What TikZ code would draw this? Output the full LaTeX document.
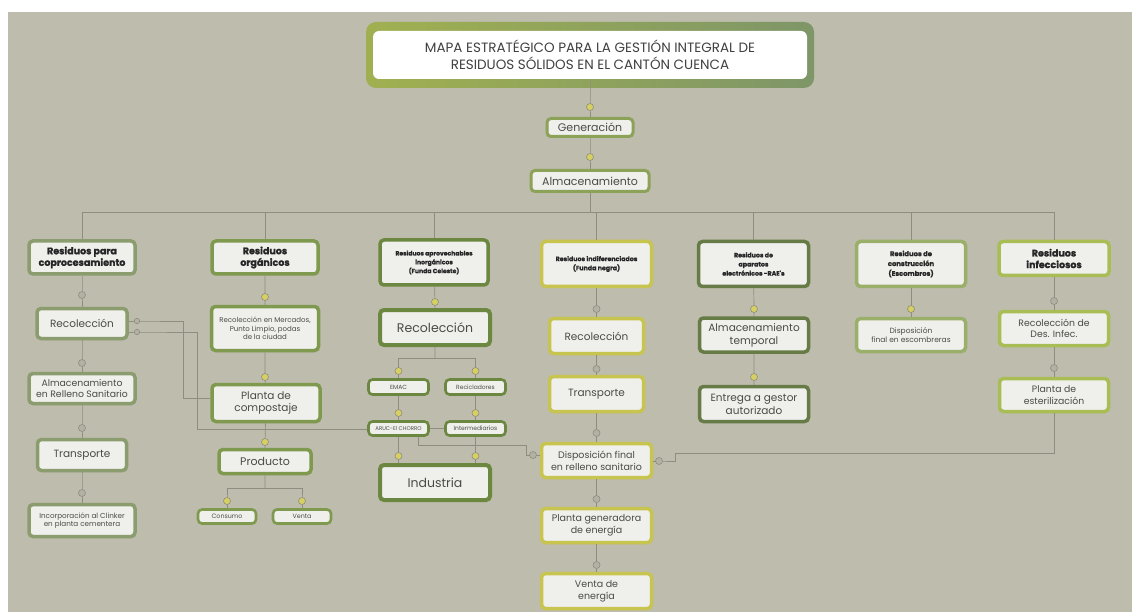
\documentclass[tikz,border=0pt]{standalone}
\usepackage{fontspec}
\setmainfont{Poppins}
\newfontfamily\negra{Poppins}[BoldFeatures={FakeBold=1.3}]
\usepackage{tikz}
\usetikzlibrary{positioning,shadows}

\definecolor{fondo}{HTML}{BEBCAC}
\definecolor{relleno}{HTML}{EFEFEC}
\definecolor{texto}{HTML}{4A4A48}
\definecolor{linea}{HTML}{8F8D80}
\definecolor{gris}{HTML}{B3B1A3}
\definecolor{amarillo}{HTML}{D6D062}
\definecolor{vtop}{HTML}{8CA258}
\definecolor{vcop}{HTML}{8B9D6E}
\definecolor{vorg}{HTML}{7F9A4E}
\definecolor{vino}{HTML}{6C8740}
\definecolor{vind}{HTML}{C8C450}
\definecolor{vrae}{HTML}{667B45}
\definecolor{vesc}{HTML}{9AB06A}
\definecolor{vinf}{HTML}{A8BE55}
\definecolor{vtitA}{HTML}{A0B050}
\definecolor{vtitB}{HTML}{7E9668}

\tikzset{
	letra/.style={font=\fontsize{#1}{1.22\dimexpr#1pt\relax}\selectfont},
	letrac/.style={font=\fontsize{#1}{1.45\dimexpr#1pt\relax}\selectfont},
	caja/.style={draw=#1, line width=3.5pt, fill=relleno, rounded corners=4pt,
		align=center, text=texto, inner sep=2pt,
		drop shadow={opacity=0.18, shadow xshift=0pt, shadow yshift=-1.5pt}},
	caja/.default=vorg,
	cat/.style={caja=#1, text=black!85, execute at begin node=\negra\bfseries},
	chica/.style={caja=#1, line width=2.6pt},
	titulo/.style={fill=white, rounded corners=6pt, minimum width=434pt,
		minimum height=48pt, align=center, text=black!75, letra=13.5},
	linea/.style={draw=linea, line width=0.7pt},
	punto/.style={circle, draw=linea, line width=0.6pt, fill=gris,
		minimum size=7pt, inner sep=0pt},
	amar/.style={fill=amarillo}
}

\begin{document}
\begin{tikzpicture}[x=1pt,y=-1pt]
		\useasboundingbox (0,0) rectangle (1132,612);
		\fill[fondo] (8,12) rectangle (1132,612);

		% titulo y tronco
		\shade[left color=vtitA, right color=vtitB, rounded corners=10pt] (366,22) rectangle (814,88);
		\node[titulo] (tit) at (590,55) {MAPA ESTRATÉGICO PARA LA GESTIÓN INTEGRAL DE\\RESIDUOS SÓLIDOS EN EL CANTÓN CUENCA};
		\node[caja=vtop, line width=3pt, minimum width=86pt, minimum height=18pt, letra=11] (gen) at (590,127.5) {Generación};
		\node[caja=vtop, line width=3pt, minimum width=118pt, minimum height=21pt, letra=11] (alm) at (590,181) {Almacenamiento};

		% categorias
		\node[cat=vcop, minimum width=106pt, minimum height=33pt, letra=9.5] (cop) at (82,257.5) {Residuos para\\coprocesamiento};
		\node[cat=vorg, minimum width=106pt, minimum height=33pt, letra=9.5] (org) at (265,257.5) {Residuos\\orgánicos};
		\node[cat=vino, minimum width=108pt, minimum height=45pt, letrac=6.1] (ino) at (434,262.5) {Residuos aprovechables\\inorgánicos\\(Funda Celeste)};
		\node[cat=vind, minimum width=110pt, minimum height=45pt, letrac=6.3] (ind) at (596.5,264) {Residuos indiferenciados\\(Funda negra)};
		\node[cat=vrae, minimum width=110pt, minimum height=45pt, letrac=6.3] (rae) at (753.5,264) {Residuos de\\aparatos\\electrónicos -RAE's};
		\node[cat=vesc, minimum width=109pt, minimum height=45pt, letrac=6.8] (esc) at (911,264) {Residuos de\\construcción\\(Escombros)};
		\node[cat=vinf, minimum width=110pt, minimum height=34pt, letra=9.5] (inf) at (1054,258.5) {Residuos\\infecciosos};

		% coprocesamiento
		\node[caja=vcop, minimum width=90pt, minimum height=30pt, letra=10.5] (cop1) at (82,323.5) {Recolección};
		\node[caja=vcop, minimum width=106pt, minimum height=30pt, letra=9.3] (cop2) at (82,388.5) {Almacenamiento\\en Relleno Sanitario};
		\node[caja=vcop, minimum width=89pt, minimum height=31pt, letra=10.5] (cop3) at (82,455) {Transporte};
		\node[caja=vcop, minimum width=106pt, minimum height=32pt, letra=7.2] (cop4) at (82,520.5) {Incorporación al Clinker\\en planta cementera};

		% organicos
		\node[caja=vorg, minimum width=107pt, minimum height=44pt, letra=7] (org1) at (265,328.5) {Recolección en Mercados,\\Punto Limpio, podas\\de la ciudad};
		\node[caja=vorg, minimum width=108pt, minimum height=37pt, letra=10.5] (org2) at (266,403) {Planta de\\compostaje};
		\node[caja=vorg, minimum width=92pt, minimum height=24pt, letra=11] (org3) at (265,461.5) {Producto};
		\node[chica=vorg, minimum width=58pt, minimum height=14pt, letra=6.3] (org4) at (227,516.5) {Consumo};
		\node[chica=vorg, minimum width=58pt, minimum height=14pt, letra=6.3] (org5) at (302,516.5) {Venta};

		% inorganicos
		\node[caja=vino, line width=4pt, minimum width=110pt, minimum height=35pt, letra=12.5] (ino1) at (435,327.5) {Recolección};
		\node[chica=vino, minimum width=60pt, minimum height=15pt, letra=6] (ino2) at (398.5,387) {EMAC};
		\node[chica=vino, minimum width=60pt, minimum height=15pt, letra=6] (ino3) at (475.5,387) {Recicladores};
		\node[chica=vino, minimum width=60pt, minimum height=14pt, letra=5.4] (ino4) at (398.5,428.5) {ARUC-El CHORRO};
		\node[chica=vino, minimum width=60pt, minimum height=14pt, letra=6] (ino5) at (475.5,428.5) {Intermediarios};
		\node[caja=vino, line width=4pt, minimum width=110pt, minimum height=35pt, letra=12.5] (ino6) at (435,482.5) {Industria};

		% indiferenciados
		\node[caja=vind, minimum width=94pt, minimum height=35pt, letra=10.5] (ind1) at (596.5,336) {Recolección};
		\node[caja=vind, minimum width=94pt, minimum height=35pt, letra=10.5] (ind2) at (596.5,394) {Transporte};
		\node[caja=vind, minimum width=110pt, minimum height=34pt, letra=9.5] (ind3) at (596.5,460.5) {Disposición final\\en relleno sanitario};
		\node[caja=vind, minimum width=110pt, minimum height=34pt, letra=9.5] (ind4) at (596.5,525.5) {Planta generadora\\de energía};
		\node[caja=vind, minimum width=110pt, minimum height=35pt, letra=9.5] (ind5) at (596.5,591) {Venta de\\energía};

		% RAE, escombros, infecciosos
		\node[caja=vrae, minimum width=109pt, minimum height=34pt, letra=10.5] (rae1) at (754,335) {Almacenamiento\\temporal};
		\node[caja=vrae, minimum width=109pt, minimum height=35pt, letra=10.5] (rae2) at (754,404) {Entrega a gestor\\autorizado};
		\node[caja=vesc, minimum width=109pt, minimum height=33pt, letra=7.5] (esc1) at (911,335) {Disposición\\final en escombreras};
		\node[caja=vinf, minimum width=109pt, minimum height=34pt, letra=9.3] (inf1) at (1054,328.5) {Recolección de\\Des. Infec.};
		\node[caja=vinf, minimum width=109pt, minimum height=33pt, letra=9.3] (inf2) at (1054,395) {Planta de\\esterilización};

		% conectores
		\draw[linea] (tit) -- (590,107) node[punto,amar] (d1) {} -- (gen) -- (590,157) node[punto,amar] (d2) {} -- (alm) -- (590,212);
		\draw[linea] (cop) -- (82,212) -- (1054,212) -- (inf);
		\foreach \n in {org,ino,ind,rae,esc}
			\draw[linea] (\n) -- (\n |- 0,212);

		\draw[linea] (cop) -- (82,295) node[punto] (e1) {} -- (cop1) -- (82,363) node[punto] (e2) {} -- (cop2)
			-- (82,428) node[punto] (e3) {} -- (cop3) -- (82,493) node[punto] (e4) {} -- (cop4);
		\draw[linea] (org) -- (265,297) node[punto,amar] (f1) {} -- (org1) -- (265,377) node[punto,amar] (f2) {} -- (org2)
			-- (265,442) node[punto,amar] (f3) {} -- (org3) -- (265,488);
		\draw[linea] (org4) -- (227,501) node[punto,amar] (f4) {} -- (227,488) -- (302,488) -- (302,501) node[punto,amar] (f5) {} -- (org5);

		\draw[linea] (ino) -- (435,302) node[punto,amar] (g1) {} -- (ino1) -- (435,358);
		\draw[linea] (ino2) -- (398.5,371) node[punto,amar] (g2) {} -- (398.5,358) -- (475.5,358) -- (475.5,371) node[punto,amar] (g3) {} -- (ino3);
		\draw[linea] (ino2) -- (398.5,413) node[punto,amar] (g4) {} -- (ino4) -- (398.5,456) node[punto,amar] (g5) {} -- (ino6.north -| 398.5,0);
		\draw[linea] (ino3) -- (475.5,413) node[punto,amar] (g6) {} -- (ino5) -- (475.5,456) node[punto,amar] (g7) {} -- (ino6.north -| 475.5,0);
		\draw[linea] (ino4) -- (ino5);

		\draw[linea] (ind) -- (596.5,309) node[punto] (h1) {} -- (ind1) -- (596.5,369) node[punto] (h2) {} -- (ind2)
			-- (596.5,433) node[punto] (h3) {} -- (ind3) -- (596.5,499) node[punto] (h4) {} -- (ind4)
			-- (596.5,565) node[punto] (h5) {} -- (ind5);

		\draw[linea] (rae) -- (754,309) node[punto,amar] (k1) {} -- (rae1) -- (754,377) node[punto,amar] (k2) {} -- (rae2);
		\draw[linea] (esc) -- (911,309) node[punto,amar] (m1) {} -- (esc1);
		\draw[linea] (inf) -- (1054,301) node[punto] (n1) {} -- (inf1) -- (1054,368) node[punto] (n2) {} -- (inf2);

		% cruces entre columnas
		\draw[linea] (cop1.east |- 0,321) -- (137,321) node[punto, minimum size=5.5pt] (q1) {} -- (183,321) -- (183,398) -- (org2.west |- 0,398);
		\draw[linea] (cop1.east |- 0,332) -- (137,332) node[punto, minimum size=5.5pt] (q2) {} -- (197,332) -- (197,429) -- (ino4.west |- 0,429);
		\draw[linea] (ino4.south -| 418,0) -- (418,445) -- (526,445) -- (526,455) -- (533,455) node[punto] (q3) {} -- (ind3.west |- 0,455);
		\draw[linea] (inf2) -- (1054,453) -- (675,453) -- (675,461) -- (659,461) node[punto] (q4) {} -- (ind3.east |- 0,461);
\end{tikzpicture}
\end{document}
